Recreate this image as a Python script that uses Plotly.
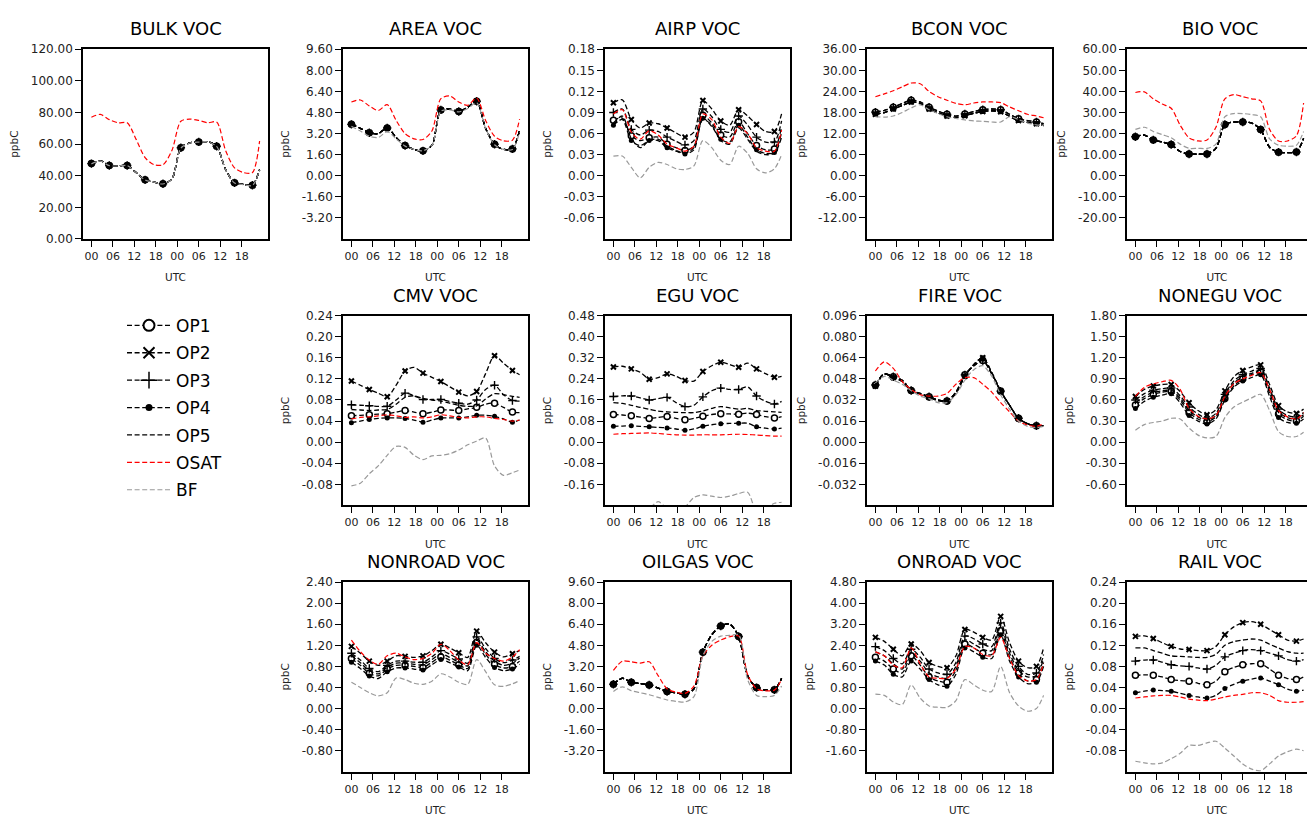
import numpy as np
import plotly.graph_objects as go

# ---------------- data ----------------
HOURS = [0, 2.5, 5, 7.5, 10, 12.5, 15, 17.5, 20, 22.5, 25, 27.5, 30, 32.5, 35, 37.5, 40, 42.5, 45, 47]
XTICK_VALS = [0, 6, 12, 18, 24, 30, 36, 42]
XTICK_TEXT = ["00", "06", "12", "18", "00", "06", "12", "18"]
SERIES = ["OP1", "OP2", "OP3", "OP4", "OP5", "OSAT", "BF"]

BULK_OP = [47.7, 49.5, 46.5, 46.3, 46.5, 42.0, 37.4, 36.0, 34.9, 38.0, 57.7, 60.8, 61.4, 61.5, 58.7, 44.0, 35.5, 34.5, 34.0, 43.8]
BULK_OSAT = [77.0, 78.8, 75.5, 73.5, 73.5, 63.0, 51.5, 47.0, 47.0, 56.0, 74.5, 75.8, 75.0, 73.5, 74.0, 56.0, 45.0, 42.0, 42.0, 62.0]
BULK_BF = [47.5, 49.3, 46.4, 46.2, 46.4, 42.0, 37.3, 36.0, 34.8, 38.0, 57.5, 60.7, 61.3, 61.4, 58.6, 44.0, 35.4, 34.4, 33.9, 43.6]

AREA_OP = [3.9, 3.6, 3.26, 3.2, 3.63, 2.9, 2.29, 2.0, 1.89, 2.3, 5.0, 5.05, 4.88, 5.2, 5.65, 3.6, 2.39, 2.0, 2.04, 3.46]
AREA_OSAT = [5.6, 5.75, 5.3, 4.95, 5.4, 4.2, 3.2, 2.8, 2.75, 3.4, 5.85, 6.05, 5.6, 5.35, 5.9, 4.2, 3.0, 2.65, 2.7, 4.3]
AREA_BF = [3.75, 3.4, 3.0, 2.9, 3.35, 2.8, 2.25, 2.0, 1.9, 2.3, 4.9, 5.0, 4.85, 5.1, 5.55, 3.6, 2.35, 2.0, 2.0, 3.3]

AIRP_OP1 = [0.079, 0.082, 0.057, 0.050, 0.054, 0.055, 0.045, 0.040, 0.036, 0.042, 0.086, 0.075, 0.058, 0.055, 0.077, 0.060, 0.043, 0.037, 0.038, 0.070]
AIRP_OP2 = [0.104, 0.108, 0.080, 0.068, 0.075, 0.074, 0.068, 0.061, 0.055, 0.062, 0.107, 0.095, 0.078, 0.072, 0.094, 0.085, 0.073, 0.063, 0.063, 0.088]
AIRP_OP3 = [0.090, 0.095, 0.066, 0.058, 0.065, 0.063, 0.055, 0.049, 0.044, 0.050, 0.095, 0.084, 0.066, 0.062, 0.085, 0.072, 0.055, 0.048, 0.048, 0.078]
AIRP_OP4 = [0.072, 0.080, 0.050, 0.043, 0.050, 0.050, 0.040, 0.035, 0.031, 0.037, 0.082, 0.070, 0.052, 0.048, 0.072, 0.055, 0.037, 0.032, 0.033, 0.062]
AIRP_OP5 = [0.075, 0.085, 0.053, 0.040, 0.050, 0.052, 0.042, 0.036, 0.032, 0.040, 0.080, 0.072, 0.050, 0.045, 0.068, 0.052, 0.035, 0.030, 0.032, 0.055]
AIRP_OSAT = [0.088, 0.094, 0.062, 0.052, 0.064, 0.058, 0.045, 0.040, 0.035, 0.042, 0.088, 0.080, 0.055, 0.046, 0.070, 0.060, 0.040, 0.035, 0.035, 0.065]
AIRP_BF = [0.028, 0.028, 0.012, -0.003, 0.012, 0.019, 0.016, 0.010, 0.009, 0.014, 0.050, 0.040, 0.022, 0.016, 0.042, 0.032, 0.010, 0.004, 0.010, 0.030]

BCON_OP_HI = [18.1, 18.6, 19.5, 20.6, 21.5, 21.0, 19.5, 18.4, 17.5, 17.0, 17.6, 18.3, 18.8, 19.0, 18.8, 17.5, 16.2, 15.7, 15.3, 14.8]
BCON_OP_LO = [17.5, 18.0, 19.0, 20.0, 21.0, 20.6, 19.0, 17.9, 17.0, 16.6, 17.1, 17.8, 18.3, 18.5, 18.2, 16.9, 15.7, 15.2, 14.8, 14.3]
BCON_OSAT = [22.5, 23.3, 24.2, 25.3, 26.4, 26.2, 24.0, 22.5, 21.5, 20.6, 20.2, 20.7, 21.0, 21.0, 20.8, 19.6, 18.5, 17.5, 17.0, 16.5]
BCON_BF = [16.8, 16.7, 17.0, 18.0, 19.3, 20.2, 18.8, 17.7, 16.8, 16.3, 15.9, 15.6, 15.5, 15.3, 15.3, 16.8, 16.0, 15.0, 14.5, 14.3]

BIO_OP = [18.5, 19.3, 17.0, 16.0, 14.8, 11.5, 10.3, 10.3, 10.3, 13.0, 24.3, 25.5, 25.5, 25.0, 21.9, 13.5, 11.2, 11.0, 11.3, 17.7]
BIO_OSAT = [39.5, 39.8, 36.5, 34.0, 32.0, 24.0, 18.0, 16.5, 17.0, 23.0, 36.5, 38.5, 37.5, 36.5, 35.5, 22.0, 16.5, 16.5, 19.0, 34.5]
BIO_BF = [22.0, 23.0, 21.0, 19.5, 18.0, 15.0, 13.0, 13.0, 13.0, 15.0, 28.0, 29.5, 29.5, 29.0, 28.0, 17.5, 14.5, 14.0, 14.5, 21.0]

CMV_OP1 = [0.050, 0.051, 0.052, 0.053, 0.054, 0.057, 0.060, 0.057, 0.054, 0.057, 0.061, 0.061, 0.060, 0.063, 0.066, 0.072, 0.074, 0.066, 0.057, 0.056]
CMV_OP2 = [0.116, 0.108, 0.100, 0.093, 0.086, 0.108, 0.135, 0.142, 0.131, 0.123, 0.115, 0.105, 0.095, 0.088, 0.096, 0.130, 0.164, 0.150, 0.136, 0.128]
CMV_OP3 = [0.071, 0.070, 0.069, 0.068, 0.068, 0.080, 0.093, 0.088, 0.081, 0.081, 0.081, 0.077, 0.074, 0.072, 0.080, 0.100, 0.108, 0.090, 0.079, 0.078]
CMV_OP4 = [0.037, 0.040, 0.043, 0.045, 0.046, 0.046, 0.045, 0.042, 0.038, 0.042, 0.046, 0.046, 0.046, 0.048, 0.051, 0.051, 0.049, 0.044, 0.038, 0.042]
CMV_OP5 = [0.062, 0.061, 0.060, 0.061, 0.062, 0.072, 0.085, 0.088, 0.083, 0.080, 0.078, 0.074, 0.070, 0.068, 0.069, 0.082, 0.092, 0.090, 0.087, 0.085]
CMV_OSAT = [0.044, 0.047, 0.048, 0.050, 0.052, 0.050, 0.047, 0.048, 0.046, 0.048, 0.052, 0.050, 0.047, 0.046, 0.048, 0.048, 0.045, 0.043, 0.040, 0.042]
CMV_BF = [-0.083, -0.078, -0.060, -0.045, -0.025, -0.008, -0.010, -0.025, -0.033, -0.026, -0.025, -0.022, -0.015, -0.005, 0.002, 0.008, -0.045, -0.063, -0.058, -0.053]

EGU_OP1 = [0.105, 0.103, 0.100, 0.095, 0.090, 0.094, 0.097, 0.090, 0.085, 0.090, 0.098, 0.105, 0.108, 0.107, 0.106, 0.110, 0.105, 0.097, 0.092, 0.097]
EGU_OP2 = [0.285, 0.288, 0.278, 0.265, 0.239, 0.245, 0.259, 0.250, 0.234, 0.232, 0.268, 0.290, 0.303, 0.295, 0.284, 0.300, 0.278, 0.260, 0.246, 0.250]
EGU_OP3 = [0.173, 0.176, 0.175, 0.168, 0.160, 0.165, 0.170, 0.150, 0.135, 0.140, 0.172, 0.195, 0.205, 0.200, 0.200, 0.210, 0.175, 0.155, 0.145, 0.155]
EGU_OP4 = [0.060, 0.061, 0.062, 0.060, 0.058, 0.056, 0.054, 0.050, 0.045, 0.050, 0.060, 0.066, 0.070, 0.071, 0.072, 0.072, 0.058, 0.053, 0.050, 0.053]
EGU_OP5 = [0.150, 0.147, 0.140, 0.132, 0.125, 0.118, 0.115, 0.113, 0.112, 0.112, 0.118, 0.128, 0.135, 0.130, 0.125, 0.128, 0.120, 0.117, 0.115, 0.113]
EGU_OSAT = [0.030, 0.032, 0.033, 0.034, 0.035, 0.033, 0.030, 0.028, 0.027, 0.027, 0.028, 0.028, 0.028, 0.029, 0.030, 0.029, 0.027, 0.025, 0.023, 0.023]
EGU_BF = [-0.270, -0.270, -0.260, -0.250, -0.250, -0.226, -0.250, -0.255, -0.245, -0.210, -0.200, -0.205, -0.210, -0.205, -0.195, -0.190, -0.260, -0.250, -0.232, -0.228]

FIRE_OP_A = [0.0434, 0.0520, 0.0496, 0.0470, 0.0392, 0.0370, 0.0345, 0.0320, 0.0313, 0.0380, 0.0511, 0.0580, 0.0620, 0.0520, 0.0387, 0.0280, 0.0181, 0.0140, 0.0124, 0.0128]
FIRE_OP_B = [0.0425, 0.0515, 0.0490, 0.0460, 0.0390, 0.0365, 0.0340, 0.0315, 0.0310, 0.0370, 0.0500, 0.0590, 0.0640, 0.0530, 0.0390, 0.0280, 0.0180, 0.0140, 0.0122, 0.0126]
FIRE_OSAT = [0.054, 0.061, 0.056, 0.046, 0.040, 0.036, 0.035, 0.035, 0.037, 0.044, 0.049, 0.049, 0.044, 0.038, 0.030, 0.023, 0.016, 0.013, 0.012, 0.014]
FIRE_BF = [0.045, 0.050, 0.047, 0.044, 0.039, 0.035, 0.033, 0.030, 0.030, 0.036, 0.047, 0.055, 0.058, 0.050, 0.036, 0.025, 0.016, 0.012, 0.011, 0.012]

NONEGU_OP1 = [0.53, 0.62, 0.68, 0.71, 0.72, 0.60, 0.42, 0.33, 0.29, 0.36, 0.62, 0.80, 0.90, 0.96, 1.00, 0.70, 0.40, 0.32, 0.30, 0.37]
NONEGU_OP2 = [0.65, 0.75, 0.80, 0.82, 0.82, 0.72, 0.56, 0.45, 0.39, 0.46, 0.73, 0.93, 1.02, 1.07, 1.10, 0.82, 0.52, 0.43, 0.41, 0.47]
NONEGU_OP3 = [0.60, 0.69, 0.74, 0.76, 0.77, 0.66, 0.50, 0.40, 0.34, 0.41, 0.68, 0.87, 0.96, 1.01, 1.05, 0.77, 0.47, 0.38, 0.36, 0.42]
NONEGU_OP4 = [0.48, 0.58, 0.64, 0.67, 0.69, 0.56, 0.38, 0.30, 0.26, 0.33, 0.60, 0.78, 0.87, 0.92, 0.96, 0.65, 0.35, 0.28, 0.27, 0.33]
NONEGU_OP5 = [0.56, 0.65, 0.71, 0.73, 0.74, 0.63, 0.45, 0.36, 0.31, 0.38, 0.65, 0.84, 0.93, 0.98, 1.02, 0.74, 0.43, 0.35, 0.33, 0.39]
NONEGU_OSAT = [0.65, 0.78, 0.83, 0.86, 0.88, 0.75, 0.48, 0.37, 0.33, 0.38, 0.65, 0.83, 0.90, 0.95, 0.99, 0.75, 0.45, 0.36, 0.33, 0.42]
NONEGU_BF = [0.17, 0.25, 0.28, 0.30, 0.34, 0.33, 0.20, 0.10, 0.06, 0.08, 0.35, 0.50, 0.57, 0.63, 0.68, 0.45, 0.15, 0.08, 0.08, 0.14]

NONROAD_OP1 = [0.95, 0.82, 0.67, 0.62, 0.75, 0.82, 0.82, 0.80, 0.78, 0.88, 0.98, 0.92, 0.83, 0.76, 1.26, 1.03, 0.84, 0.77, 0.80, 0.90]
NONROAD_OP2 = [1.18, 1.05, 0.90, 0.82, 0.90, 1.00, 0.99, 0.97, 1.00, 1.10, 1.22, 1.15, 1.06, 0.97, 1.47, 1.25, 1.07, 0.98, 1.04, 1.10]
NONROAD_OP3 = [1.05, 0.92, 0.76, 0.70, 0.82, 0.90, 0.90, 0.88, 0.88, 0.98, 1.10, 1.03, 0.94, 0.86, 1.36, 1.14, 0.95, 0.87, 0.92, 0.99]
NONROAD_OP4 = [0.88, 0.76, 0.62, 0.57, 0.70, 0.77, 0.77, 0.75, 0.73, 0.83, 0.93, 0.87, 0.79, 0.72, 1.20, 0.97, 0.78, 0.72, 0.75, 0.84]
NONROAD_OP5 = [1.00, 0.87, 0.72, 0.66, 0.78, 0.86, 0.86, 0.84, 0.83, 0.93, 1.04, 0.97, 0.88, 0.81, 1.30, 1.08, 0.90, 0.82, 0.86, 0.96]
NONROAD_OSAT = [1.30, 1.08, 0.92, 0.84, 1.00, 1.05, 0.98, 0.93, 0.95, 1.05, 1.22, 1.10, 0.92, 0.83, 1.25, 1.05, 0.95, 0.90, 0.98, 1.12]
NONROAD_BF = [0.50, 0.40, 0.30, 0.24, 0.30, 0.58, 0.55, 0.48, 0.46, 0.52, 0.66, 0.60, 0.50, 0.46, 0.93, 0.70, 0.45, 0.42, 0.47, 0.53]

OILGAS_OP = [1.84, 2.30, 1.99, 1.90, 1.79, 1.55, 1.29, 1.20, 1.09, 1.50, 4.28, 5.60, 6.27, 6.40, 5.47, 2.50, 1.59, 1.42, 1.42, 2.29]
OILGAS_OSAT = [2.90, 3.60, 3.55, 3.45, 3.55, 2.50, 1.50, 1.25, 1.15, 1.70, 4.00, 4.80, 5.20, 5.45, 5.50, 2.60, 1.50, 1.35, 1.40, 2.20]
OILGAS_BF = [1.30, 1.65, 1.35, 1.20, 1.05, 0.85, 0.65, 0.55, 0.50, 0.90, 4.00, 5.10, 5.50, 5.55, 5.60, 2.20, 1.00, 0.90, 1.00, 1.70]

ONROAD_OP1 = [1.95, 1.80, 1.50, 1.35, 2.00, 1.65, 1.20, 1.05, 1.00, 1.45, 2.45, 2.30, 2.10, 2.05, 2.95, 1.95, 1.35, 1.05, 1.10, 1.75]
ONROAD_OP2 = [2.70, 2.55, 2.25, 2.00, 2.45, 2.20, 1.75, 1.60, 1.55, 2.00, 3.00, 2.90, 2.70, 2.60, 3.50, 2.50, 1.80, 1.55, 1.60, 2.30]
ONROAD_OP3 = [2.35, 2.20, 1.90, 1.70, 2.25, 1.95, 1.50, 1.35, 1.30, 1.75, 2.75, 2.65, 2.45, 2.35, 3.25, 2.25, 1.60, 1.30, 1.35, 2.05]
ONROAD_OP4 = [1.80, 1.65, 1.30, 1.20, 1.80, 1.50, 1.10, 0.90, 0.85, 1.30, 2.30, 2.15, 1.95, 1.90, 2.80, 1.80, 1.20, 0.95, 1.00, 1.60]
ONROAD_OP5 = [2.15, 2.00, 1.70, 1.50, 2.10, 1.80, 1.35, 1.20, 1.15, 1.60, 2.60, 2.45, 2.25, 2.20, 3.10, 2.10, 1.45, 1.20, 1.25, 1.90]
ONROAD_OSAT = [2.15, 2.00, 1.65, 1.55, 2.30, 1.70, 1.20, 1.15, 1.15, 1.50, 2.35, 2.30, 2.05, 2.00, 2.70, 1.90, 1.25, 1.05, 1.10, 1.70]
ONROAD_BF = [0.55, 0.50, 0.25, 0.15, 0.90, 0.40, 0.10, 0.05, 0.05, 0.30, 1.10, 0.90, 0.70, 0.65, 1.60, 0.60, 0.10, -0.10, 0.00, 0.50]

RAIL_OP1 = [0.063, 0.064, 0.063, 0.060, 0.055, 0.053, 0.052, 0.048, 0.045, 0.052, 0.070, 0.078, 0.083, 0.085, 0.085, 0.075, 0.063, 0.057, 0.055, 0.060]
RAIL_OP2 = [0.137, 0.138, 0.133, 0.125, 0.118, 0.113, 0.112, 0.110, 0.110, 0.118, 0.140, 0.155, 0.163, 0.165, 0.160, 0.150, 0.140, 0.130, 0.128, 0.132]
RAIL_OP3 = [0.090, 0.092, 0.092, 0.088, 0.083, 0.081, 0.080, 0.077, 0.075, 0.082, 0.098, 0.105, 0.110, 0.112, 0.110, 0.105, 0.100, 0.093, 0.090, 0.093]
RAIL_OP4 = [0.030, 0.033, 0.035, 0.034, 0.033, 0.029, 0.025, 0.022, 0.020, 0.025, 0.038, 0.046, 0.052, 0.056, 0.058, 0.052, 0.045, 0.037, 0.033, 0.035]
RAIL_OP5 = [0.115, 0.115, 0.110, 0.105, 0.100, 0.099, 0.098, 0.097, 0.097, 0.103, 0.120, 0.127, 0.130, 0.132, 0.130, 0.122, 0.115, 0.108, 0.105, 0.105]
RAIL_OSAT = [0.020, 0.022, 0.024, 0.025, 0.025, 0.022, 0.018, 0.016, 0.015, 0.018, 0.022, 0.025, 0.027, 0.030, 0.030, 0.025, 0.015, 0.012, 0.012, 0.013]
RAIL_BF = [-0.100, -0.103, -0.105, -0.103, -0.095, -0.085, -0.070, -0.070, -0.065, -0.062, -0.075, -0.090, -0.105, -0.115, -0.118, -0.105, -0.090, -0.082, -0.077, -0.080]


def same(op):
    return {"OP1": op, "OP2": op, "OP3": op, "OP4": op, "OP5": op}


def sep(a, b, c, d, e):
    return {"OP1": a, "OP2": b, "OP3": c, "OP4": d, "OP5": e}


# title, row, col, series dict, (ymin, ymax, step, first tick), decimals
PANELS = [
    ("BULK VOC", 0, 0, {**same(BULK_OP), "OSAT": BULK_OSAT, "BF": BULK_BF}, (0, 120, 20, 0), 2),
    ("AREA VOC", 0, 1, {**same(AREA_OP), "OSAT": AREA_OSAT, "BF": AREA_BF}, (-4.8, 9.6, 1.6, -3.2), 2),
    ("AIRP VOC", 0, 2, {**sep(AIRP_OP1, AIRP_OP2, AIRP_OP3, AIRP_OP4, AIRP_OP5), "OSAT": AIRP_OSAT, "BF": AIRP_BF}, (-0.09, 0.18, 0.03, -0.06), 2),
    ("BCON VOC", 0, 3, {**sep(BCON_OP_HI, BCON_OP_LO, BCON_OP_HI, BCON_OP_LO, BCON_OP_LO), "OSAT": BCON_OSAT, "BF": BCON_BF}, (-18, 36, 6, -12), 2),
    ("BIO VOC", 0, 4, {**same(BIO_OP), "OSAT": BIO_OSAT, "BF": BIO_BF}, (-30, 60, 10, -20), 2),
    ("CMV VOC", 1, 1, {**sep(CMV_OP1, CMV_OP2, CMV_OP3, CMV_OP4, CMV_OP5), "OSAT": CMV_OSAT, "BF": CMV_BF}, (-0.12, 0.24, 0.04, -0.08), 2),
    ("EGU VOC", 1, 2, {**sep(EGU_OP1, EGU_OP2, EGU_OP3, EGU_OP4, EGU_OP5), "OSAT": EGU_OSAT, "BF": EGU_BF}, (-0.24, 0.48, 0.08, -0.16), 2),
    ("FIRE VOC", 1, 3, {**sep(FIRE_OP_A, FIRE_OP_B, FIRE_OP_A, FIRE_OP_B, FIRE_OP_A), "OSAT": FIRE_OSAT, "BF": FIRE_BF}, (-0.048, 0.096, 0.016, -0.032), 3),
    ("NONEGU VOC", 1, 4, {**sep(NONEGU_OP1, NONEGU_OP2, NONEGU_OP3, NONEGU_OP4, NONEGU_OP5), "OSAT": NONEGU_OSAT, "BF": NONEGU_BF}, (-0.9, 1.8, 0.3, -0.6), 2),
    ("NONROAD VOC", 2, 1, {**sep(NONROAD_OP1, NONROAD_OP2, NONROAD_OP3, NONROAD_OP4, NONROAD_OP5), "OSAT": NONROAD_OSAT, "BF": NONROAD_BF}, (-1.2, 2.4, 0.4, -0.8), 2),
    ("OILGAS VOC", 2, 2, {**same(OILGAS_OP), "OSAT": OILGAS_OSAT, "BF": OILGAS_BF}, (-4.8, 9.6, 1.6, -3.2), 2),
    ("ONROAD VOC", 2, 3, {**sep(ONROAD_OP1, ONROAD_OP2, ONROAD_OP3, ONROAD_OP4, ONROAD_OP5), "OSAT": ONROAD_OSAT, "BF": ONROAD_BF}, (-2.4, 4.8, 0.8, -1.6), 2),
    ("RAIL VOC", 2, 4, {**sep(RAIL_OP1, RAIL_OP2, RAIL_OP3, RAIL_OP4, RAIL_OP5), "OSAT": RAIL_OSAT, "BF": RAIL_BF}, (-0.12, 0.24, 0.04, -0.08), 2),
]

# ---------------- styles / layout ----------------
W, H = 1307, 825
FONT = "DejaVu Sans"
COL_LEFT = [83, 343, 605, 867, 1127]
ROW_TOP = [43, 314, 585]
AX_W, AX_H = 185, 193
XR = (-2.35, 49.35)
DASH = "5px,2.6px"

LINE = {
    "OP1": dict(color="black", width=1.3),
    "OP2": dict(color="black", width=1.3),
    "OP3": dict(color="black", width=1.3),
    "OP4": dict(color="black", width=1.3),
    "OP5": dict(color="black", width=1.3),
    "OSAT": dict(color="#ff0000", width=1.2),
    "BF": dict(color="#999999", width=1.2),
}
MARK = {
    "OP1": dict(symbol="circle", size=6, color="white", line=dict(color="black", width=1.5)),
    "OP2": dict(symbol="x-thin", size=5, color="black", line=dict(color="black", width=2)),
    "OP3": dict(symbol="cross-thin", size=6, color="black", line=dict(color="black", width=1.4)),
    "OP4": dict(symbol="circle", size=5, color="black", line=dict(color="black", width=0)),
}
LEG_MARK = {
    "OP1": dict(symbol="circle", size=11, color="white", line=dict(color="black", width=2)),
    "OP2": dict(symbol="x-thin", size=11, color="black", line=dict(color="black", width=2)),
    "OP3": dict(symbol="cross-thin", size=12, color="black", line=dict(color="black", width=1.5)),
    "OP4": dict(symbol="circle", size=7, color="black", line=dict(color="black", width=0)),
}

fig = go.Figure()
layout = dict(
    width=W, height=H, margin=dict(l=0, r=0, t=0, b=0),
    paper_bgcolor="white", plot_bgcolor="white",
    font=dict(family=FONT, color="#222222"),
    annotations=[],
)

for i, (title, r, c, data, (ymin, ymax, step, first), dec) in enumerate(PANELS):
    n = i + 1
    xs = "x" if n == 1 else f"x{n}"
    ys = "y" if n == 1 else f"y{n}"
    xk = "xaxis" if n == 1 else f"xaxis{n}"
    yk = "yaxis" if n == 1 else f"yaxis{n}"
    left = COL_LEFT[c]
    right = min(left + AX_W, W)
    top, bot = ROW_TOP[r], ROW_TOP[r] + AX_H
    xr = (XR[0], XR[0] + (XR[1] - XR[0]) * (right - left) / AX_W)
    cut = right < left + AX_W

    ticks = np.round(np.arange(first, ymax + step / 2, step), 6)
    ttext = [f"{(0.0 if abs(v) < 1e-9 else v):.{dec}f}" for v in ticks]

    axis_common = dict(
        showline=True, linecolor="black", linewidth=1.6,
        ticks="outside", ticklen=6, tickwidth=1.3, tickcolor="black",
        showgrid=False, zeroline=False,
    )
    layout[xk] = dict(
        axis_common, domain=[left / W, right / W], anchor=ys, range=list(xr),
        tickmode="array", tickvals=XTICK_VALS, ticktext=XTICK_TEXT, mirror=True,
        tickfont=dict(family=FONT, size=11, color="#222222"),
        title=dict(text="UTC", font=dict(family=FONT, size=10.5), standoff=12),
    )
    layout[yk] = dict(
        axis_common, domain=[1 - bot / H, 1 - top / H], anchor=xs, range=[ymin, ymax],
        tickmode="array", tickvals=list(ticks), ticktext=ttext, mirror=(False if cut else True),
        tickfont=dict(family=FONT, size=12, color="#222222"),
        title=dict(text="ppbC", font=dict(family=FONT, size=10.5), standoff=10),
    )
    layout["annotations"].append(dict(
        text=title, x=(left + AX_W / 2) / W, y=1 - (top - 21) / H, xref="paper", yref="paper",
        xanchor="center", yanchor="middle", showarrow=False,
        font=dict(family=FONT, size=18, color="black"),
    ))

    for s in SERIES:
        vals = data[s]
        fig.add_trace(go.Scatter(
            x=HOURS, y=vals, mode="lines", xaxis=xs, yaxis=ys,
            line=dict(LINE[s], dash=DASH, shape="spline", smoothing=0.8),
            showlegend=False, hoverinfo="skip",
        ))
        if s in MARK:
            fig.add_trace(go.Scatter(
                x=HOURS[::2], y=vals[::2], mode="markers", xaxis=xs, yaxis=ys,
                marker=MARK[s], showlegend=False, hoverinfo="skip",
            ))

# legend entries
for s in SERIES:
    kw = dict(mode="lines+markers", marker=LEG_MARK[s]) if s in LEG_MARK else dict(mode="lines")
    fig.add_trace(go.Scatter(
        x=[None], y=[None], name=s, xaxis="x", yaxis="y", legendgroup=s,
        line=dict(LINE[s], dash=DASH), showlegend=True, **kw,
    ))

layout["legend"] = dict(
    x=122 / W, y=1 - 306 / H, xanchor="left", yanchor="top",
    font=dict(family=FONT, size=17, color="black"),
    bgcolor="rgba(0,0,0,0)", borderwidth=0, tracegroupgap=2.3,
    itemwidth=44, traceorder="grouped",
)

fig.update_layout(**layout)
fig.write_html("out.html", config={"displayModeBar": False},
               post_script="document.body.style.margin='0';")
